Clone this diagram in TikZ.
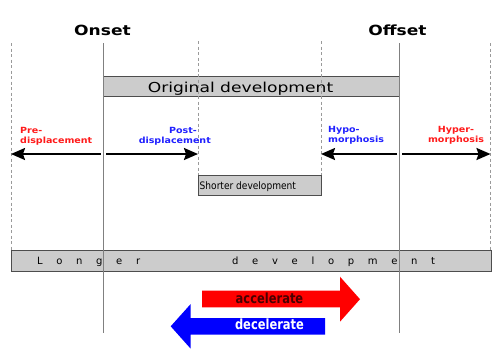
\documentclass[tikz,border=0pt]{standalone}
\usepackage{fontspec}
\setmainfont{DejaVu Sans}
\newfontfamily\titlefont[FakeStretch=1.22]{DejaVu Sans}
\newfontfamily\boxfont[FakeStretch=1.25]{DejaVu Sans}
\newfontfamily\smallboxfont[FakeStretch=0.88]{DejaVu Sans}
\newfontfamily\labelfont[FakeStretch=1.12]{DejaVu Sans}
\newfontfamily\arrowfont[FakeStretch=0.82]{DejaVu Sans}
\newfontfamily\spacedfont[LetterSpace=137]{DejaVu Sans}
\usetikzlibrary{arrows.meta}
\definecolor{boxfill}{HTML}{CCCCCC}
\definecolor{boxline}{HTML}{4D4D4D}
\definecolor{phasegray}{HTML}{808080}
\definecolor{guidegray}{HTML}{9A9A9A}
\definecolor{labelred}{HTML}{FF1A1A}
\definecolor{labelblue}{HTML}{2020FF}
\definecolor{accred}{HTML}{FF0000}
\definecolor{decblue}{HTML}{0000FF}
\definecolor{acctext}{HTML}{4A0000}
\begin{document}
\begin{tikzpicture}[x=1pt,y=-1pt,
  greybox/.style={draw=boxline, fill=boxfill, line width=1pt, inner sep=0pt, anchor=north west},
  guide/.style={draw=guidegray, line width=0.8pt, dash pattern=on 3pt off 2.5pt},
  phase/.style={draw=phasegray, line width=1pt},
  shiftarrow/.style={line width=2pt, -{Stealth[length=14pt,width=12pt,inset=2pt]}},
  title/.style={font=\titlefont\bfseries\fontsize{14}{16}\selectfont, anchor=base, inner sep=0pt},
  shiftlabel/.style={font=\labelfont\bfseries\fontsize{8.5}{10}\selectfont, inner sep=0pt},
  bigarrowtext/.style={font=\arrowfont\bfseries\fontsize{14}{16}\selectfont, anchor=base, inner sep=0pt}
]
\useasboundingbox (0,0) rectangle (500,354);

% grey bars
\node[greybox, minimum width=296pt, minimum height=20pt] (origbox) at (103,76) {};
\node[greybox, minimum width=123pt, minimum height=20pt] (shortbox) at (198,175) {};
\node[greybox, minimum width=479.5pt, minimum height=20.5pt] (longbox) at (11,250) {};

% bar texts
\node[font=\boxfont\fontsize{13.7}{16}\selectfont, anchor=base, inner sep=0pt] (origtext) at (240.5,92) {Original development};
\node[font=\smallboxfont\fontsize{10.3}{12}\selectfont, anchor=base west, inner sep=0pt] (shorttext) at (199.5,189.5) {Shorter development};
\node[font=\spacedfont\fontsize{10}{12}\selectfont, anchor=base west, inner sep=0pt] (longtext) at (37,264) {Longer\hspace{92pt}development};

% guide lines (dashed)
\coordinate (gLtop) at (11,43);   \coordinate (gLbot) at (11,250);
\coordinate (gRtop) at (490.5,43); \coordinate (gRbot) at (490.5,250);
\coordinate (gPtop) at (198,41);  \coordinate (gPbot) at (198,175);
\coordinate (gHtop) at (321,41);  \coordinate (gHbot) at (321,175);
\draw[guide] (gLtop) -- (gLbot);
\draw[guide] (gRtop) -- (gRbot);
\draw[guide] (gPtop) -- (gPbot);
\draw[guide] (gHtop) -- (gHbot);

% onset / offset lines
\coordinate (onTop) at (103,43);  \coordinate (onBot) at (103,333);
\coordinate (offTop) at (399,43); \coordinate (offBot) at (399,333);
\draw[phase] (onTop) -- (onBot);
\draw[phase] (offTop) -- (offBot);
\node[title] (onset) at (102.5,35) {Onset};
\node[title] (offset) at (397.5,35) {Offset};

% shift arrows
\coordinate (preS) at (100.5,154);  \coordinate (preE) at (11,154);
\coordinate (postS) at (106,154);   \coordinate (postE) at (198,154);
\coordinate (hypoS) at (397,154);   \coordinate (hypoE) at (321,154);
\coordinate (hyperS) at (402,154);  \coordinate (hyperE) at (490.5,154);
\draw[shiftarrow] (preS) -- (preE);
\draw[shiftarrow] (postS) -- (postE);
\draw[shiftarrow] (hypoS) -- (hypoE);
\draw[shiftarrow] (hyperS) -- (hyperE);

% shift labels (anchor base = baseline of last line)
\node[shiftlabel, text=labelred, align=left, anchor=base west] (prelab) at (20,143) {Pre-\\displacement};
\node[shiftlabel, text=labelblue, align=right, anchor=base east] (postlab) at (211,143) {Post-\hspace*{14pt}\\displacement};
\node[shiftlabel, text=labelblue, align=left, anchor=base west] (hypolab) at (328,142) {Hypo-\\morphosis};
\node[shiftlabel, text=labelred, align=center, anchor=base] (hyperlab) at (456,142) {Hyper-\\morphosis};

% big arrows
\fill[accred] (202,290.7) -- (340,290.7) -- (340,276.7) -- (360,299.2) -- (340,321.7) -- (340,307.3) -- (202,307.3) -- cycle;
\fill[decblue] (325,318) -- (190.7,318) -- (190.7,304) -- (170.7,326.3) -- (190.7,348.7) -- (190.7,334.7) -- (325,334.7) -- cycle;
\node[bigarrowtext, text=acctext] (acc) at (269.5,303.7) {accelerate};
\node[bigarrowtext, text=white] (dec) at (269.5,329.7) {decelerate};
\end{tikzpicture}
\end{document}
